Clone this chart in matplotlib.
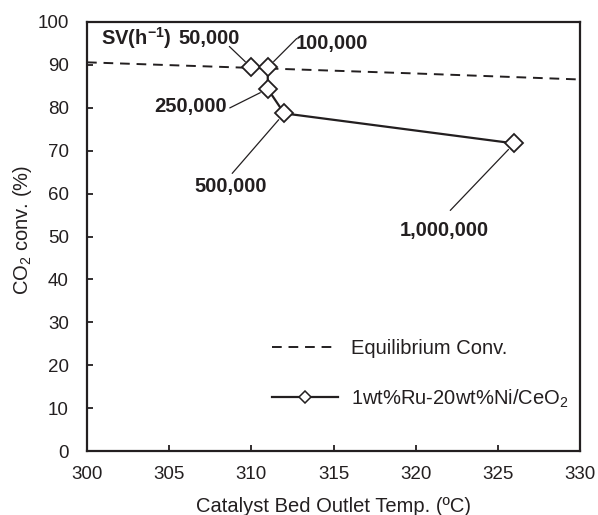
import matplotlib
matplotlib.use("Agg")
import matplotlib.pyplot as plt

plt.rcParams['font.family'] = ['Liberation Sans', 'DejaVu Sans']
plt.rcParams['mathtext.fontset'] = 'custom'
plt.rcParams['mathtext.rm'] = 'Liberation Sans'
plt.rcParams['mathtext.bf'] = 'Liberation Sans:bold'
plt.rcParams['mathtext.default'] = 'regular'

# Equilibrium conversion
eq_temp = [300, 310, 320, 330]
eq_conv = [90.6, 89.3, 88.0, 86.6]

# Catalyst data
sv_labels = ['50,000', '100,000', '250,000', '500,000', '1,000,000']
cat_temp = [310, 311, 311, 312, 326]
cat_conv = [89.4, 89.4, 84.4, 78.7, 71.7]

xticks = [300, 305, 310, 315, 320, 325, 330]
yticks = [0, 10, 20, 30, 40, 50, 60, 70, 80, 90, 100]

col = '#231f20'
fig = plt.figure(figsize=(5.98, 5.15), dpi=100)
ax = fig.add_axes([87/598, 1 - 451/515, 493/598, 429/515])

ax.plot(eq_temp, eq_conv, ls=(0, (5, 3.5)), color=col, lw=1.4, label='Equilibrium Conv.')
ax.plot(cat_temp, cat_conv, ls='-', color=col, lw=1.6, marker='D', markersize=9.5,
        mfc='white', mec=col, mew=1.3, label='1wt%Ru-20wt%Ni/CeO$_2$')

ax.set_xlim(300, 330)
ax.set_ylim(0, 100)
ax.set_xticks(xticks)
ax.set_yticks(yticks)
ax.tick_params(direction='in', length=4, width=1.3, color=col, labelsize=13.5, labelcolor=col)
ax.tick_params(axis='y', pad=13)
ax.tick_params(axis='x', pad=11)
for s in ax.spines.values():
    s.set_linewidth(1.6)
    s.set_color(col)

ax.set_xlabel('Catalyst Bed Outlet Temp. (ºC)', fontsize=14.5, color=col, va='center')
ax.xaxis.set_label_coords(0.5, (451 - 507) / 429)
ax.set_ylabel('CO$_2$ conv. (%)', fontsize=14.5, color=col, va='center')
ax.yaxis.set_label_coords((23 - 87) / 493, 0.515)

# Leader lines and labels (offsets in pixels)
leader = [(-22, 21), (29, 29), (-38, -19), (-52, -60), (-64, -67)]
textpos = [(-42, 29, 'center'), (64, 24, 'center'), (-41, -18, 'right'),
           (-54, -73, 'center'), (-70, -87, 'center')]
for i, lab in enumerate(sv_labels):
    x, y = cat_temp[i], cat_conv[i]
    ax.annotate('', xy=(x, y), xytext=leader[i], textcoords='offset pixels',
                arrowprops=dict(arrowstyle='-', lw=0.9, color=col, shrinkA=0, shrinkB=6))
    tx, ty, ha = textpos[i]
    ax.annotate(lab, xy=(x, y), xytext=(tx, ty), textcoords='offset pixels',
                ha=ha, va='center', fontsize=14.5, fontweight='bold', color=col)

ax.text(101/598, 1 - 38/515, 'SV(h$^{\\mathbf{-1}}$)', transform=fig.transFigure,
        ha='left', va='center', fontsize=14.5, fontweight='bold', color=col)

leg = ax.legend(loc='upper left', bbox_to_anchor=((272 - 87)/493, (451 - 339)/429),
                frameon=False, fontsize=14.5, handlelength=3.3, handletextpad=0.6,
                labelspacing=1.45, borderpad=0, borderaxespad=0)
for t in leg.get_texts():
    t.set_color(col)
leg.legend_handles[1].set_markersize(6)
leg.legend_handles[1].set_markeredgewidth(1.1)

fig.savefig('out.png', dpi=100)
